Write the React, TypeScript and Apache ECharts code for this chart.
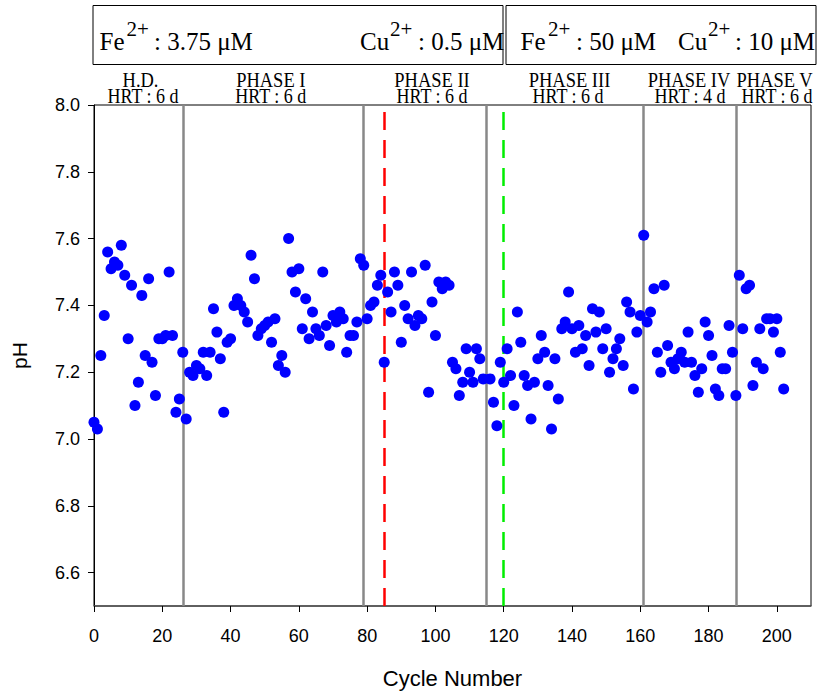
import React, { useEffect, useRef } from "react";
import * as echarts from "echarts";

// ---- data ----
const cycles = [
  0, 1, 2, 3, 4, 5, 6, 7, 8, 9, 10, 11, 12, 13, 14, 15, 16, 17, 18, 19,
  20, 21, 22, 23, 24, 25, 26, 27, 28, 29, 30, 31, 32, 33, 34, 35, 36, 37, 38, 39,
  40, 41, 42, 43, 44, 45, 46, 47, 48, 49, 50, 51, 52, 53, 54, 55, 56, 57, 58, 59,
  60, 61, 62, 63, 64, 65, 66, 67, 68, 69, 70, 71, 72, 73, 74, 75, 76, 77, 78, 79,
  80, 81, 82, 83, 84, 85, 86, 87, 88, 89, 90, 91, 92, 93, 94, 95, 96, 97, 98, 99,
  100, 101, 102, 103, 104, 105, 106, 107, 108, 109, 110, 111, 112, 113, 114, 116, 117, 118, 119,
  120, 121, 122, 123, 124, 125, 126, 127, 128, 129, 130, 131, 132, 133, 134, 135, 136, 137, 138, 139,
  140, 141, 142, 143, 144, 145, 146, 147, 148, 149, 150, 151, 152, 153, 154, 155, 156, 157, 158, 159,
  160, 161, 162, 163, 164, 165, 166, 167, 168, 169, 170, 171, 172, 173, 174, 175, 176, 177, 178, 179,
  180, 181, 182, 183, 184, 185, 186, 187, 188, 189, 190, 191, 192, 193, 194, 195, 196, 197, 198, 199,
  200, 201, 202,
];

const pHValues = [
  7.05, 7.03, 7.25, 7.37, 7.56, 7.51, 7.53, 7.52, 7.58, 7.49, 7.30, 7.46, 7.10, 7.17, 7.43, 7.25, 7.48, 7.23, 7.13, 7.30,
  7.30, 7.31, 7.50, 7.31, 7.08, 7.12, 7.26, 7.06, 7.20, 7.19, 7.22, 7.21, 7.26, 7.19, 7.26, 7.39, 7.32, 7.24, 7.08, 7.29,
  7.30, 7.40, 7.42, 7.40, 7.38, 7.35, 7.55, 7.48, 7.31, 7.33, 7.34, 7.35, 7.29, 7.36, 7.22, 7.25, 7.20, 7.60, 7.50, 7.44,
  7.51, 7.33, 7.42, 7.30, 7.38, 7.33, 7.31, 7.50, 7.34, 7.28, 7.37, 7.35, 7.38, 7.36, 7.26, 7.31, 7.31, 7.35, 7.54, 7.52,
  7.36, 7.40, 7.41, 7.46, 7.49, 7.23, 7.44, 7.38, 7.50, 7.46, 7.29, 7.40, 7.36, 7.50, 7.34, 7.37, 7.36, 7.52, 7.14, 7.41,
  7.31, 7.47, 7.45, 7.47, 7.46, 7.23, 7.21, 7.13, 7.17, 7.27, 7.20, 7.17, 7.27, 7.24, 7.18, 7.18, 7.11, 7.04, 7.23,
  7.17, 7.27, 7.19, 7.10, 7.38, 7.29, 7.19, 7.16, 7.06, 7.17, 7.24, 7.31, 7.26, 7.16, 7.03, 7.24, 7.12, 7.33, 7.35, 7.44,
  7.33, 7.26, 7.34, 7.27, 7.31, 7.22, 7.39, 7.32, 7.38, 7.27, 7.33, 7.20, 7.24, 7.27, 7.30, 7.22, 7.41, 7.38, 7.15, 7.32,
  7.37, 7.61, 7.35, 7.38, 7.45, 7.26, 7.20, 7.46, 7.28, 7.23, 7.21, 7.24, 7.26, 7.23, 7.32, 7.23, 7.19, 7.14, 7.21, 7.35,
  7.31, 7.25, 7.15, 7.13, 7.21, 7.21, 7.34, 7.26, 7.13, 7.49, 7.33, 7.45, 7.46, 7.16, 7.23, 7.33, 7.21, 7.36, 7.36, 7.32,
  7.36, 7.26, 7.15,
];

const phaseBoundaries = [26, 79, 115, 161, 188];
const redLineCycle = 85;
const greenLineCycle = 120;

const xTicks = [0, 20, 40, 60, 80, 100, 120, 140, 160, 180, 200];
const yTicks = [6.6, 6.8, 7.0, 7.2, 7.4, 7.6, 7.8, 8.0];

const phaseNames = ["H.D.", "PHASE I", "PHASE II", "PHASE III", "PHASE IV", "PHASE V"];
const phaseHRT = ["HRT : 6 d", "HRT : 6 d", "HRT : 6 d", "HRT : 6 d", "HRT : 4 d", "HRT : 6 d"];

const SERIF = "'Liberation Serif', 'DejaVu Serif', serif";
const SANS = "'Liberation Sans', Arial, sans-serif";

export default function App() {
  const ref = useRef<HTMLDivElement>(null);

  useEffect(() => {
    if (!ref.current) return;
    const chart = echarts.init(ref.current, undefined, { renderer: "svg" });

    const points = cycles.map((c, i) => [c, pHValues[i]]);

    const markData: any[] = [
      ...phaseBoundaries.map((v) => ({
        xAxis: v,
        lineStyle: { color: "#888888", width: 2.5, type: "solid" },
      })),
      { xAxis: redLineCycle, lineStyle: { color: "#ff0000", width: 2.5, type: [18, 10] } },
      { xAxis: greenLineCycle, lineStyle: { color: "#00ee00", width: 2.5, type: [18, 10] } },
    ];

    const phaseNameX = [140.5, 270.8, 432, 569.5, 689, 774.5];
    const phaseHrtX = [143, 270.8, 432, 568, 690, 777];

    const mainFs = 25;
    const supFs = 21;
    const mainY = 41;
    const supY = 29;
    const txt = (text: string, x: number, y: number, fs: number) => ({
      type: "text",
      x,
      y,
      style: {
        text,
        fill: "#000",
        font: `${fs}px ${SERIF}`,
        textAlign: "left",
        textVerticalAlign: "middle",
      },
    });

    const graphics: any[] = [
      { type: "rect", shape: { x: 93, y: 5.5, width: 410, height: 59 }, style: { fill: "none", stroke: "#000", lineWidth: 1 } },
      { type: "rect", shape: { x: 506, y: 5.5, width: 310, height: 59 }, style: { fill: "none", stroke: "#000", lineWidth: 1 } },
      txt("Fe", 99.5, mainY, mainFs),
      txt("2+", 126.5, supY, supFs),
      txt(": 3.75 \u03bcM", 154, mainY, mainFs),
      txt("Cu", 360, mainY, mainFs),
      txt("2+", 390, supY, supFs),
      txt(": 0.5 \u03bcM", 418, mainY, mainFs),
      txt("Fe", 520.5, mainY, mainFs),
      txt("2+", 548, supY, supFs),
      txt(": 50 \u03bcM", 576, mainY, mainFs),
      txt("Cu", 678, mainY, mainFs),
      txt("2+", 708, supY, supFs),
      txt(": 10 \u03bcM", 735, mainY, mainFs),
    ];
    phaseNames.forEach((n, i) => {
      graphics.push({
        type: "text",
        x: phaseNameX[i],
        y: 80,
        scaleX: 0.88,
        style: { text: n, fill: "#000", font: `21px ${SERIF}`, textAlign: "center", textVerticalAlign: "middle" },
      });
      graphics.push({
        type: "text",
        x: phaseHrtX[i],
        y: 96.5,
        scaleX: 0.9,
        style: { text: phaseHRT[i], fill: "#000", font: `20px ${SERIF}`, textAlign: "center", textVerticalAlign: "middle" },
      });
    });

    const option: any = {
      animation: false,
      grid: {
        left: 94,
        right: 8,
        top: 105,
        bottom: 89,
        show: true,
        borderColor: "#000",
        borderWidth: 1,
      },
      xAxis: {
        type: "value",
        min: 0,
        max: 210,
        name: "Cycle Number",
        nameLocation: "middle",
        nameGap: 61,
        nameTextStyle: { fontFamily: SANS, fontSize: 22, color: "#000" },
        axisLine: { show: true, lineStyle: { color: "#555", width: 1.5 } },
        axisTick: { show: true, inside: false, length: 6, customValues: xTicks, lineStyle: { color: "#000", width: 1 } },
        axisLabel: { customValues: xTicks, margin: 21, fontFamily: SANS, fontSize: 18, color: "#000" },
        splitLine: { show: false },
      },
      yAxis: {
        type: "value",
        min: 6.5,
        max: 8.0,
        name: "pH",
        nameLocation: "middle",
        nameGap: 64,
        nameTextStyle: { fontFamily: SANS, fontSize: 21, color: "#000" },
        axisLine: { show: true, lineStyle: { color: "#000", width: 1 } },
        axisTick: { show: true, inside: false, length: 6, customValues: yTicks, lineStyle: { color: "#000", width: 1 } },
        axisLabel: {
          customValues: yTicks,
          margin: 14,
          fontFamily: SANS,
          fontSize: 18,
          color: "#000",
          formatter: (v: number) => v.toFixed(1),
        },
        splitLine: { show: false },
      },
      graphic: graphics,
      series: [
        {
          type: "scatter",
          data: [],
          silent: true,
          markLine: {
            silent: true,
            symbol: "none",
            z: 1,
            label: { show: false },
            data: markData,
          },
        },
        {
          type: "scatter",
          z: 3,
          data: points,
          symbol: "circle",
          symbolSize: 11,
          itemStyle: { color: "#0000ff", opacity: 1 },
        },
      ],
    };

    chart.setOption(option);
    return () => chart.dispose();
  }, []);

  return (
    <div
      ref={ref}
      style={{ position: "absolute", left: 0, top: 0, width: 819, height: 695, background: "#fff" }}
    />
  );
}
